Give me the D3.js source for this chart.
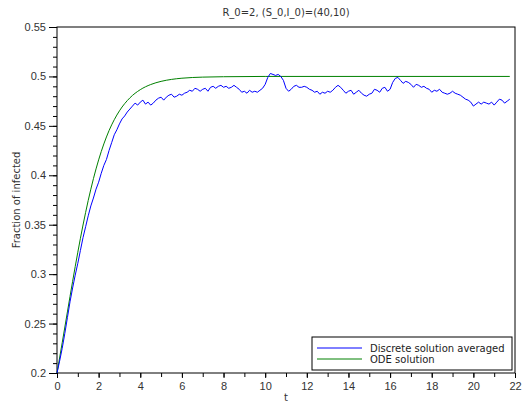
<!DOCTYPE html>
<html>
<head>
<meta charset="utf-8">
<script src="https://cdn.jsdelivr.net/npm/d3@7"></script>
<style>
  body { margin: 0; background: #fff; }
  svg { display: block; font-family: "DejaVu Sans", sans-serif; }
</style>
</head>
<body>
<svg id="chart" width="527" height="402"></svg>
<script>
// data
const title = 'R_0=2, (S_0,I_0)=(40,10)';
const xTicks = [0, 2, 4, 6, 8, 10, 12, 14, 16, 18, 20, 22];
const yTicks = [0.2, 0.25, 0.3, 0.35, 0.4, 0.45, 0.5, 0.55];
const seriesNames = ['Discrete solution averaged', 'ODE solution'];

// ODE curve (t, fraction)
const odeT = [0, 0.25, 0.5, 0.75, 1, 1.25, 1.5, 1.75, 2, 2.25, 2.5, 2.75, 3, 3.5, 4, 4.5, 5, 5.5, 6, 7, 8, 10, 21.75];
const odeV = [0.2, 0.2306, 0.2618, 0.2927, 0.3222, 0.3497, 0.3746, 0.3966, 0.4156, 0.4317, 0.4452, 0.4562, 0.4652, 0.4783, 0.4866, 0.4918, 0.495, 0.497, 0.4982, 0.4993, 0.4997, 0.5, 0.5];

// discrete averaged curve, sampled every 0.125 in t
const discreteStep = 0.125;
const discreteV = [
  0.200, 0.212, 0.225, 0.240, 0.256, 0.272, 0.286, 0.299, 0.311, 0.324, 0.337, 0.348, 0.359, 0.369, 0.377, 0.386,
  0.393, 0.402, 0.410, 0.416, 0.425, 0.433, 0.441, 0.446, 0.452, 0.457, 0.460, 0.464, 0.467, 0.470, 0.473, 0.471,
  0.474, 0.476, 0.472, 0.474, 0.471, 0.473, 0.476, 0.478, 0.479, 0.476, 0.479, 0.481, 0.482, 0.479, 0.480, 0.482,
  0.481, 0.483, 0.484, 0.486, 0.485, 0.488, 0.487, 0.485, 0.487, 0.488, 0.485, 0.489, 0.490, 0.488, 0.490, 0.491,
  0.489, 0.490, 0.488, 0.489, 0.491, 0.489, 0.487, 0.484, 0.485, 0.483, 0.486, 0.484, 0.485, 0.484, 0.486, 0.488,
  0.492, 0.499, 0.503, 0.502, 0.501, 0.502, 0.500, 0.496, 0.488, 0.485, 0.487, 0.490, 0.491, 0.489, 0.489, 0.490,
  0.489, 0.487, 0.486, 0.484, 0.485, 0.482, 0.484, 0.483, 0.485, 0.484, 0.486, 0.489, 0.491, 0.489, 0.486, 0.483,
  0.485, 0.486, 0.482, 0.484, 0.486, 0.483, 0.481, 0.480, 0.482, 0.483, 0.487, 0.486, 0.484, 0.488, 0.489, 0.485,
  0.487, 0.494, 0.498, 0.499, 0.496, 0.493, 0.495, 0.494, 0.492, 0.489, 0.492, 0.491, 0.489, 0.490, 0.488, 0.487,
  0.484, 0.486, 0.485, 0.487, 0.484, 0.483, 0.482, 0.483, 0.485, 0.483, 0.482, 0.481, 0.479, 0.477, 0.476, 0.474,
  0.470, 0.472, 0.474, 0.472, 0.474, 0.473, 0.472, 0.474, 0.471, 0.474, 0.477, 0.476, 0.473, 0.475, 0.477
];

const colors = ['#0000ff', '#008000'];

const svg = d3.select('#chart');
const m = { left: 57, right: 515, top: 27, bottom: 373 };

const x = d3.scaleLinear().domain([0, 22]).range([m.left, m.right]);
const y = d3.scaleLinear().domain([0.2, 0.55]).range([m.bottom, m.top]);

// minor ticks
const xMinor = d3.range(0, 22.01, 1);
const yMinor = d3.range(0.2, 0.5501, 0.01);

svg.append('g')
  .attr('transform', `translate(0,${m.bottom})`)
  .call(d3.axisBottom(x).tickValues(xMinor).tickSize(4).tickFormat(''))
  .call(g => g.select('.domain').remove());

svg.append('g')
  .attr('transform', `translate(0,${m.bottom})`)
  .call(d3.axisBottom(x).tickValues(xTicks).tickSize(5).tickPadding(4).tickFormat(d3.format('d')))
  .call(g => g.select('.domain').remove())
  .call(g => g.selectAll('text').attr('font-size', 11).attr('fill', '#333'));

svg.append('g')
  .attr('transform', `translate(${m.left},0)`)
  .call(d3.axisLeft(y).tickValues(yMinor).tickSize(4).tickFormat(''))
  .call(g => g.select('.domain').remove());

svg.append('g')
  .attr('transform', `translate(${m.left},0)`)
  .call(d3.axisLeft(y).tickValues(yTicks).tickSize(8).tickPadding(3).tickFormat(d => String(+d.toFixed(2))))
  .call(g => g.select('.domain').remove())
  .call(g => g.selectAll('text').attr('font-size', 11).attr('fill', '#333'));

// frame
svg.append('rect')
  .attr('x', m.left).attr('y', m.top)
  .attr('width', m.right - m.left).attr('height', m.bottom - m.top)
  .attr('fill', 'none').attr('stroke', '#000').attr('stroke-width', 1);

const line = d3.line().x(d => x(d[0])).y(d => y(d[1]));

const discrete = discreteV.map((v, i) => [i * discreteStep, v]);
const ode = odeT.map((t, i) => [t, odeV[i]]);

svg.append('path')
  .datum(ode)
  .attr('fill', 'none')
  .attr('stroke', colors[1])
  .attr('stroke-width', 1)
  .attr('d', line.curve(d3.curveMonotoneX));

svg.append('path')
  .datum(discrete)
  .attr('fill', 'none')
  .attr('stroke', colors[0])
  .attr('stroke-width', 1)
  .attr('d', line.curve(d3.curveLinear));

// titles
svg.append('text')
  .attr('x', (m.left + m.right) / 2).attr('y', 16)
  .attr('text-anchor', 'middle').attr('font-size', 10).attr('fill', '#333')
  .text(title);

svg.append('text')
  .attr('x', (m.left + m.right) / 2).attr('y', 401)
  .attr('text-anchor', 'middle').attr('font-size', 10).attr('fill', '#333')
  .text('t');

svg.append('text')
  .attr('transform', `translate(20,${(m.top + m.bottom) / 2}) rotate(-90)`)
  .attr('text-anchor', 'middle').attr('font-size', 10).attr('fill', '#333')
  .text('Fraction of infected');

// legend
const legend = svg.append('g');
legend.append('rect')
  .attr('x', 312).attr('y', 337).attr('width', 200).attr('height', 33)
  .attr('fill', '#fff').attr('stroke', '#000');

seriesNames.forEach((name, i) => {
  const ly = 348 + i * 11;
  legend.append('line')
    .attr('x1', 317).attr('x2', 362).attr('y1', ly).attr('y2', ly)
    .attr('stroke', colors[i]);
  legend.append('text')
    .attr('x', 370).attr('y', ly + 3.5)
    .attr('font-size', 10).attr('fill', '#222')
    .text(name);
});
</script>
</body>
</html>
